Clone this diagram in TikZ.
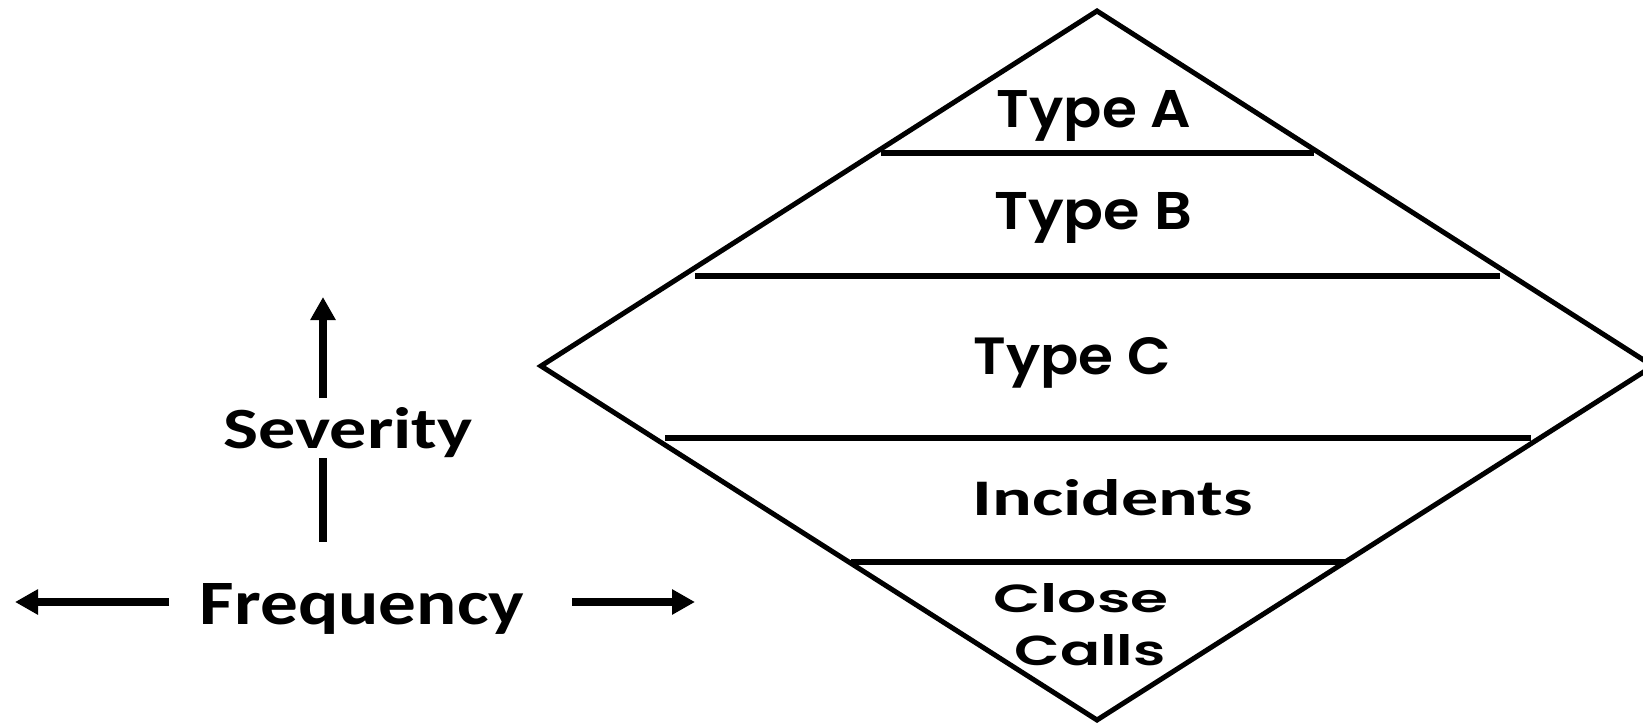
\documentclass[tikz,border=0pt]{standalone}
\usepackage{fontspec}
\setmainfont{Carlito}
\newfontfamily\popfont{Poppins SemiBold}
\usetikzlibrary{arrows.meta}
\newcommand\fitbox[3]{\resizebox{#1pt}{#2pt}{#3}}
\begin{document}
\begin{tikzpicture}[x=1pt,y=-1pt,
  frame/.style={line width=5pt, line join=miter},
  divider/.style={line width=6pt},
  axis/.style={line width=7.5pt},
  arrowtip/.style={-{Triangle[length=23pt,width=24pt]}},
  lbl/.style={inner sep=0pt, anchor=base}]
\useasboundingbox (0,0) rectangle (1643,727);
% diamond
\coordinate (top) at (1097,11);
\coordinate (right) at (1653,366);
\coordinate (bottom) at (1097,720);
\coordinate (left) at (541,366);
\draw[frame] (top) -- (right) -- (bottom) -- (left) -- cycle;
% dividers
\coordinate (d1l) at (881,153);  \coordinate (d1r) at (1314,153);
\coordinate (d2l) at (695,276);  \coordinate (d2r) at (1500,276);
\coordinate (d3l) at (665,438);  \coordinate (d3r) at (1531,438);
\coordinate (d4l) at (851,562);  \coordinate (d4r) at (1345,562);
\draw[divider] (d1l) -- (d1r);
\draw[divider] (d2l) -- (d2r);
\draw[divider] (d3l) -- (d3r);
\draw[divider] (d4l) -- (d4r);
% labels
\node[lbl] (ta) at (1094,128) {\fitbox{194}{37}{\popfont Type A}};
\node[lbl] (tb) at (1093,230) {\fitbox{198}{37}{\popfont Type B}};
\node[lbl] (tc) at (1072,374) {\fitbox{197}{37}{\popfont Type C}};
\node[lbl] (inc) at (1113,515) {\fitbox{280}{36}{\bfseries Incidents}};
\node[lbl] (close) at (1081,612) {\fitbox{175}{29}{\popfont Close}};
\node[lbl] (calls) at (1090,665) {\fitbox{151}{31}{\popfont Calls}};
\node[lbl] (sev) at (348,448) {\fitbox{249}{41}{\bfseries Severity}};
\node[lbl] (freq) at (362,624) {\fitbox{324}{41}{\bfseries Frequency}};
% axes
\coordinate (sevup) at (323,398);
\coordinate (sevtip) at (323,297);
\coordinate (sevlo) at (323,458);
\coordinate (sevbot) at (323,542);
\draw[axis,arrowtip] (sevup) -- (sevtip);
\draw[axis] (sevlo) -- (sevbot);
\coordinate (fl) at (169,602);
\coordinate (fltip) at (15,602);
\coordinate (fr) at (572,602);
\coordinate (frtip) at (695,602);
\draw[axis,arrowtip] (fl) -- (fltip);
\draw[axis,arrowtip] (fr) -- (frtip);
\end{tikzpicture}
\end{document}
